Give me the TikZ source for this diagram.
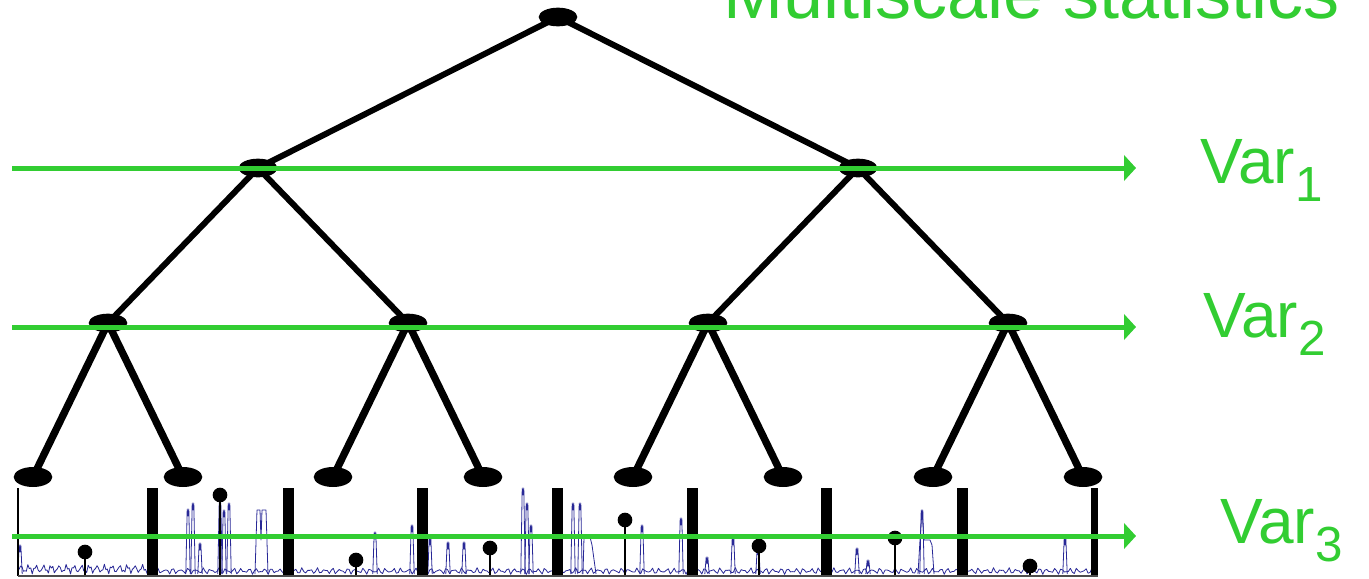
\documentclass[tikz,border=0pt]{standalone}
\usepackage{fontspec}
\setmainfont{Liberation Sans}
\usetikzlibrary{shapes.geometric,arrows.meta,backgrounds}

\definecolor{scalegreen}{RGB}{50,205,50}
\definecolor{signalblue}{RGB}{40,40,150}

\tikzset{
  treenode/.style={ellipse, fill=black, minimum width=29pt, minimum height=14pt, inner sep=0pt},
  leafnode/.style={treenode, minimum height=15pt},
  upperedge/.style={line width=4.5pt},
  loweredge/.style={line width=5.5pt},
  scaleline/.style={draw=scalegreen, line width=3.75pt, -{Triangle[length=9pt,width=19pt]}},
  varlabel/.style={text=scalegreen, anchor=base west, inner sep=0pt, font=\fontsize{48}{48}\selectfont},
  signal/.style={draw=signalblue, line width=0.6pt, line join=round},
  sepbar/.style={fill=black},
  stem/.style={draw=black, line width=0.8pt},
}

\newcommand{\subidx}[1]{\raisebox{-14pt}{\fontsize{37}{37}\selectfont #1}}

\begin{document}
\begin{tikzpicture}[x=0.75pt,y=-0.75pt]
\path[use as bounding box, clip] (0,0) rectangle (1369,578);

% title
\node[anchor=base west, inner sep=0pt, text=scalegreen, font=\fontsize{54}{54}\selectfont] (title) at (723,18) {Multiscale statistics};

% binary tree
\node[treenode] (r)  at (558,17) {};
\node[treenode] (a1) at (258,168) {};
\node[treenode] (a2) at (858,168) {};
\node[treenode] (b1) at (108,323) {};
\node[treenode] (b2) at (408,323) {};
\node[treenode] (b3) at (708,323) {};
\node[treenode] (b4) at (1008,323) {};
\node[leafnode] (c1) at (33,477) {};
\node[leafnode] (c2) at (183,477) {};
\node[leafnode] (c3) at (333,477) {};
\node[leafnode] (c4) at (483,477) {};
\node[leafnode] (c5) at (633,477) {};
\node[leafnode] (c6) at (783,477) {};
\node[leafnode] (c7) at (933,477) {};
\node[leafnode] (c8) at (1083,477) {};

\begin{scope}[on background layer]
  \draw[upperedge] (r.center) -- (a1.center);
  \draw[upperedge] (r.center) -- (a2.center);
  \draw[upperedge] (a1.center) -- (b1.center);
  \draw[upperedge] (a1.center) -- (b2.center);
  \draw[upperedge] (a2.center) -- (b3.center);
  \draw[upperedge] (a2.center) -- (b4.center);
  \draw[loweredge] (b1.center) -- (c1.center);
  \draw[loweredge] (b1.center) -- (c2.center);
  \draw[loweredge] (b2.center) -- (c3.center);
  \draw[loweredge] (b2.center) -- (c4.center);
  \draw[loweredge] (b3.center) -- (c5.center);
  \draw[loweredge] (b3.center) -- (c6.center);
  \draw[loweredge] (b4.center) -- (c7.center);
  \draw[loweredge] (b4.center) -- (c8.center);
\end{scope}

% signal: low-level noise
\draw[signal] plot[domain=19:150, samples=90]
  (\x, {569 + 3*sin(mod(\x,38)*47.37) + 2*sin(mod(\x,51)*113+30)});
\draw[signal] plot[domain=150:1094, samples=480]
  (\x, {571 + 2*sin(mod(\x,38)*47.37) + 1.4*sin(mod(\x,51)*113+30)});

% signal: isolated peaks
\foreach \px/\py in {20/545, 188/509, 193/503, 200/543, 220/503, 224/510, 229/503,
  375/532, 412/525, 430/538, 448/542, 464/542, 523/488, 527/503, 531/525,
  573/503, 580/503, 642/525, 681/518, 707/557, 733/538, 758/548,
  857/548, 868/560, 922/510, 1065/538}{
  \draw[signal] (\px-2.2,574) -- (\px-0.8,\py) -- (\px,\py+7) -- (\px+0.8,\py) -- (\px+2.2,574);
}
% signal: flat-topped bursts
\draw[signal] (255,574) -- (257,510) -- (260,510) -- (261,540) -- (262,510) -- (266,510) -- (268,574);
\draw[signal] (583,574) -- (584,537) -- (590,537) -- (592,545) -- (596,574);
\draw[signal] (918,574) -- (920,540) -- (922,510) -- (924,540) -- (930,540) -- (932,545) -- (934,574);

% sample statistics
\foreach \lx/\ly [count=\i] in {85/552, 220/495, 356/560, 490/548, 625/520, 759/546, 895/538, 1030/566}{
  \coordinate (s\i) at (\lx,\ly);
  \coordinate (t\i) at (\lx,576);
  \draw[stem] (t\i) -- (s\i);
  \fill (s\i) circle[radius=5.5pt];
}

% segment separators and axes
\foreach \bx in {152,288,422,557,692,826,962}{
  \fill[sepbar] (\bx-5.5,488) rectangle (\bx+5.5,576);
}
\fill[sepbar] (1091,488) rectangle (1098,576);
\draw[line width=1.2pt] (18,488) -- (18,576);
\draw[line width=0.8pt, draw=black!70] (18,576) -- (1098,576);

% scale lines
\coordinate (g1s) at (12,168);  \coordinate (g1e) at (1136,168);
\coordinate (g2s) at (12,327);  \coordinate (g2e) at (1136,327);
\coordinate (g3s) at (12,536);  \coordinate (g3e) at (1136,536);
\draw[scaleline] (g1s) -- (g1e);
\draw[scaleline] (g2s) -- (g2e);
\draw[scaleline] (g3s) -- (g3e);

\node[varlabel] (v1) at (1200,183) {Var\subidx{1}};
\node[varlabel] (v2) at (1203,337) {Var\subidx{2}};
\node[varlabel] (v3) at (1220,543) {Var\subidx{3}};
\end{tikzpicture}
\end{document}
